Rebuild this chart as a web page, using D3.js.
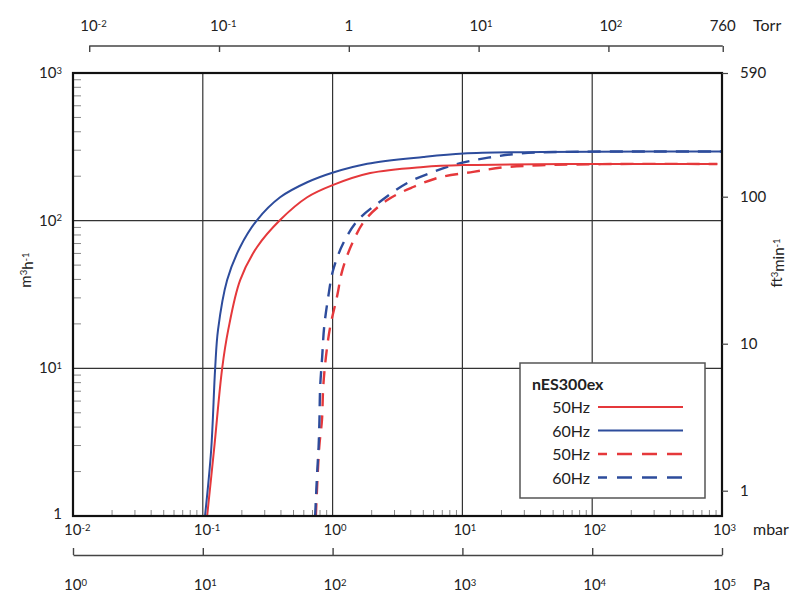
<!DOCTYPE html>
<html>
<head>
<meta charset="utf-8">
<script src="https://cdn.jsdelivr.net/npm/d3@7"></script>
<style>
  body { margin: 0; background: #fff; }
  text { font-family: Lato, "Open Sans", sans-serif; fill: #222; }
</style>
</head>
<body>
<svg id="chart" width="800" height="603"></svg>
<script>
// pressure in mbar, pumping speed in m3/h
const p50Solid = [0.108, 0.122, 0.141, 0.157, 0.194, 0.262, 0.394, 0.637, 1.0, 1.95, 5.0, 10.2, 100, 920];
const s50Solid = [1, 2.8, 10, 18.2, 39.6, 66.3, 101, 144, 174, 210, 231, 238, 242, 242];
const p60Solid = [0.104, 0.116, 0.1245, 0.131, 0.154, 0.194, 0.262, 0.394, 0.637, 1.01, 1.85, 5.0, 10.2, 30, 100, 1000];
const s60Solid = [1, 2.8, 10, 18.2, 39.6, 66.3, 101, 144, 182, 212, 243, 270, 285, 291, 293, 294];
const p50Dash = [0.743, 0.789, 0.828, 0.847, 0.888, 0.957, 1.08, 1.19, 1.42, 1.78, 2.64, 4.18, 6.76, 12.1, 21, 40, 165, 920];
const s50Dash = [1, 2.93, 4.47, 7.47, 11.9, 19.0, 30.4, 46.3, 70.5, 101, 138, 169, 197, 214, 230, 237, 242, 242];
const p60Dash = [0.734, 0.760, 0.780, 0.792, 0.802, 0.831, 0.861, 0.925, 1.01, 1.21, 1.57, 2.41, 3.76, 5.97, 9.64, 15.8, 27.9, 56.9, 300, 1000];
const s60Dash = [1, 1.95, 2.93, 4.47, 7.47, 11.9, 19.0, 30.4, 46.3, 70.5, 101, 138, 180, 214, 245, 267, 285, 292, 294, 294];

const mbarTicks = [1e-2, 1e-1, 1, 10, 100, 1000];
const torrTicks = [0.01, 0.1, 1, 10, 100, 760];
const paTicks = [1, 10, 100, 1e3, 1e4, 1e5];
const m3hTicks = [1, 10, 100, 1000];
const cfmTicks = [1, 10, 100, 590];
const legendLabels = ["50Hz", "60Hz", "50Hz", "60Hz"];

const red = "#e5383b", blue = "#2d4c9c";
const series = [
  { p: p50Dash, s: s50Dash, color: red, dash: "13,9" },
  { p: p60Dash, s: s60Dash, color: blue, dash: "13,9" },
  { p: p50Solid, s: s50Solid, color: red, dash: null },
  { p: p60Solid, s: s60Solid, color: blue, dash: null }
];

const L = 73, R = 722, T = 73, B = 516;
const svg = d3.select("#chart");

const x = d3.scaleLog().domain([1e-2, 1e3]).range([L, R]);
const y = d3.scaleLog().domain([1, 1e3]).range([B, T]);
const xTorr = d3.scaleLog().domain([1e-2 / 1.33322, 1e3 / 1.33322]).range([L, R]);
const xPa = d3.scaleLog().domain([1, 1e5]).range([L, R]);
const yCfm = d3.scaleLog().domain([1, 100, 590]).range([490.7, 196.7, 73]);

function powLabel(sel, v, plainOne) {
  const e = Math.round(Math.log10(v));
  sel.text(null);
  if (plainOne && e === 0) { sel.attr("text-anchor", "middle").text("1"); return; }
  if (Math.abs(Math.log10(v) - e) > 1e-6) { sel.attr("text-anchor", "middle").text(v); return; }
  sel.attr("text-anchor", "start").attr("dx", -9);
  sel.append("tspan").text("10");
  sel.append("tspan").attr("dy", "-0.45em").attr("font-size", "9.5px").text(e < 0 ? "-" + (-e) : e);
}

// grid
const grid = svg.append("g").attr("stroke", "#333").attr("stroke-width", 1.2);
grid.selectAll(".gx").data(mbarTicks.slice(1, -1)).enter().append("line")
  .attr("x1", d => x(d)).attr("x2", d => x(d)).attr("y1", T).attr("y2", B);
grid.selectAll(".gy").data(m3hTicks.slice(1, -1)).enter().append("line")
  .attr("x1", L).attr("x2", R).attr("y1", d => y(d)).attr("y2", d => y(d));

// minor ticks inside the frame
const minorY = [], minorX = [];
[1, 10, 100].forEach(d => { for (let k = 2; k < 10; k++) minorY.push(k * d); });
[0.01, 0.1, 1, 10, 100].forEach(d => { for (let k = 2; k < 10; k++) minorX.push(k * d); });
const minor = svg.append("g").attr("stroke", "#888").attr("stroke-width", 1);
minor.selectAll(".my").data(minorY).enter().append("line")
  .attr("x1", L).attr("x2", L + 8).attr("y1", d => y(d)).attr("y2", d => y(d));
minor.selectAll(".mx").data(minorX).enter().append("line")
  .attr("x1", d => x(d)).attr("x2", d => x(d)).attr("y1", B).attr("y2", B - 6);

// curves
svg.append("clipPath").attr("id", "plot").append("rect")
  .attr("x", L).attr("y", T).attr("width", R - L).attr("height", B - T);
const line = d3.line().x(d => x(d[0])).y(d => y(d[1])).curve(d3.curveCatmullRom.alpha(0.5));
svg.append("g").attr("clip-path", "url(#plot)").selectAll("path").data(series).enter().append("path")
  .attr("d", d => line(d.p.map((p, i) => [p, d.s[i]])))
  .attr("fill", "none").attr("stroke", d => d.color)
  .attr("stroke-width", d => d.dash ? 2.4 : 2)
  .attr("stroke-dasharray", d => d.dash);

// frame
svg.append("rect").attr("x", L).attr("y", T).attr("width", R - L).attr("height", B - T)
  .attr("fill", "none").attr("stroke", "#111").attr("stroke-width", 2.2);

// mbar labels
svg.append("g").selectAll("text").data(mbarTicks).enter().append("text")
  .attr("x", d => x(d)).attr("y", 535).attr("font-size", 15)
  .each(function(d) { powLabel(d3.select(this), d, false); });

// left y labels
svg.append("g").selectAll("text").data(m3hTicks).enter().append("text")
  .attr("x", 62).attr("y", d => y(d) + 5).attr("font-size", 15)
  .each(function(d) {
    const t = d3.select(this);
    if (d === 1) { t.attr("text-anchor", "end").attr("y", B + 3).text("1"); return; }
    const e = Math.round(Math.log10(d));
    t.attr("text-anchor", "end");
    t.append("tspan").text("10");
    t.append("tspan").attr("dy", "-0.45em").attr("font-size", "9.5px").text(e);
  });

// torr axis on top
const gT = svg.append("g").attr("transform", "translate(0,46)")
  .call(d3.axisBottom(xTorr).tickValues(torrTicks).tickSize(6).tickFormat(""));
gT.select(".domain").remove();
gT.selectAll(".tick line").attr("stroke", "#444").attr("stroke-width", 1.4);
gT.append("line").attr("x1", xTorr(0.01)).attr("x2", xTorr(760)).attr("y1", 0).attr("y2", 0)
  .attr("stroke", "#444").attr("stroke-width", 1.4);
svg.append("g").selectAll("text").data(torrTicks).enter().append("text")
  .attr("x", d => xTorr(d)).attr("y", 31).attr("font-size", 15)
  .each(function(d) { powLabel(d3.select(this), d, true); });

// Pa axis at the bottom
const gP = svg.append("g").attr("transform", "translate(0,555)")
  .call(d3.axisTop(xPa).tickValues(paTicks).tickSize(7).tickSizeOuter(0).tickFormat(""));
gP.selectAll(".domain, .tick line").attr("stroke", "#444").attr("stroke-width", 1.4);
svg.append("g").selectAll("text").data(paTicks).enter().append("text")
  .attr("x", d => xPa(d)).attr("y", 590).attr("font-size", 15)
  .each(function(d) { powLabel(d3.select(this), d, false); });

// right cfm axis
const gR = svg.append("g").attr("transform", "translate(" + R + ",0)")
  .call(d3.axisRight(yCfm).tickValues(cfmTicks).tickSize(6).tickPadding(12).tickFormat(d3.format("d")));
gR.select(".domain").remove();
gR.selectAll(".tick line").attr("stroke", "#444").attr("stroke-width", 1.2);
gR.selectAll(".tick text").attr("font-size", 15).attr("font-family", "Lato, sans-serif").attr("fill", "#222");

// unit labels
svg.append("text").attr("x", 753).attr("y", 31).attr("font-size", 16).text("Torr");
svg.append("text").attr("x", 753).attr("y", 535).attr("font-size", 16).text("mbar");
svg.append("text").attr("x", 753).attr("y", 590).attr("font-size", 16).text("Pa");

const yt = svg.append("text").attr("transform", "translate(31,270) rotate(-90)")
  .attr("text-anchor", "middle").attr("font-size", 15);
yt.append("tspan").text("m");
yt.append("tspan").attr("dy", "-0.45em").attr("font-size", "9.5px").text("3");
yt.append("tspan").attr("dy", "0.45em").text("h");
yt.append("tspan").attr("dy", "-0.45em").attr("font-size", "9.5px").text("-1");

const yr = svg.append("text").attr("transform", "translate(782,263) rotate(-90)")
  .attr("text-anchor", "middle").attr("font-size", 15);
yr.append("tspan").text("ft");
yr.append("tspan").attr("dy", "-0.45em").attr("font-size", "9.5px").text("3");
yr.append("tspan").attr("dy", "0.45em").text("min");
yr.append("tspan").attr("dy", "-0.45em").attr("font-size", "9.5px").text("-1");

// legend
const lg = svg.append("g").attr("transform", "translate(520,363)");
lg.append("rect").attr("width", 185).attr("height", 135)
  .attr("fill", "#fff").attr("stroke", "#555").attr("stroke-width", 1.5);
lg.append("text").attr("x", 12).attr("y", 27).attr("font-size", 16).attr("font-weight", "bold").text("nES300ex");
const rows = lg.selectAll(".row").data([series[2], series[3], series[0], series[1]]).enter().append("g")
  .attr("transform", (d, i) => "translate(0," + (44 + i * 23.5) + ")");
rows.append("text").attr("x", 70).attr("y", 6).attr("text-anchor", "end").attr("font-size", 16)
  .text((d, i) => legendLabels[i]);
rows.append("line").attr("x1", 78).attr("x2", 163).attr("y1", 0).attr("y2", 0)
  .attr("stroke", d => d.color).attr("stroke-width", d => d.dash ? 2.4 : 2)
  .attr("stroke-dasharray", d => d.dash ? "15,10" : null)
  .attr("stroke-dashoffset", 6);
</script>
</body>
</html>
